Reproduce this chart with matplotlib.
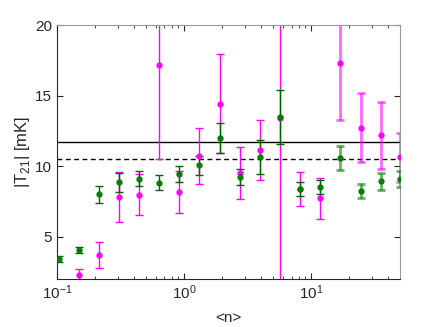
import matplotlib
matplotlib.use('Agg')
import matplotlib.pyplot as plt
import numpy as np

plt.rcParams['font.family'] = ['Liberation Sans', 'DejaVu Sans']
plt.rcParams['mathtext.fontset'] = 'custom'
plt.rcParams['mathtext.rm'] = 'Liberation Sans'

# <n> bins (log spaced)
n_mean = [0.104, 0.149, 0.213, 0.307, 0.444, 0.64, 0.918, 1.32, 1.9, 2.74,
          3.95, 5.7, 8.2, 11.8, 17.0, 24.5, 35.3, 50.0]

# green series
t_green = [3.42, 4.06, 8.0, 8.85, 9.11, 8.83, 9.45, 10.06, 12.0, 9.23,
           10.67, 13.49, 8.4, 8.52, 10.57, 8.24, 8.92, 9.11]
e_green = [0.2, 0.2, 0.6, 0.67, 0.55, 0.55, 0.58, 0.68, 1.08, 0.57,
           1.2, 1.9, 0.5, 0.5, 0.85, 0.47, 0.6, 0.56]

# magenta series (no value in the first bin)
t_mag = [np.nan, 2.3, 3.7, 7.79, 7.98, 17.18, 8.17, 10.72, 14.43, 9.52,
         11.17, 13.4, 8.38, 7.71, 17.34, 12.73, 12.18, 10.62]
e_mag = [np.nan, 0.43, 0.9, 1.78, 1.45, 6.7, 1.5, 2.0, 3.5, 1.83,
         2.13, 14.0, 1.23, 1.43, 4.1, 2.43, 2.37, 1.73]

t_solid = 11.72
t_dashed = 10.53

fig = plt.figure(figsize=(4.43, 3.27), dpi=100)
ax = fig.add_axes([0.1287, 0.1468, 0.7743, 0.7767])

x = np.array(n_mean)
tm, em = np.array(t_mag), np.array(e_mag)
tg, eg = np.array(t_green), np.array(e_green)
split = 14  # last bins drawn lighter

for sl, a, lw in [(slice(0, split), 1.0, 1.0), (slice(split, None), 0.6, 2.0)]:
    ax.errorbar(x[sl], tm[sl], yerr=em[sl], fmt='none', ecolor='#ff00ff',
                elinewidth=lw, capsize=3, capthick=lw, alpha=a, zorder=2)
    ax.errorbar(x[sl], tg[sl], yerr=eg[sl], fmt='none', ecolor='#006400' if a == 1.0 else '#008000',
                elinewidth=lw, capsize=3, capthick=lw, alpha=a, zorder=3)
ax.plot(x, tm, 'o', color='#ff00ff', markersize=3.5, zorder=4)
ax.plot(x, tg, 'o', color='#007f00', markersize=3.5, zorder=5)

ax.axhline(t_solid, color='black', lw=1.0, zorder=1)
ax.axhline(t_dashed, color='black', lw=1.0, ls=(0, (3.5, 2.5)), zorder=1)

ax.set_xscale('log')
ax.set_xlim(0.1, 50)
ax.set_ylim(2, 20)
ax.set_yticks([5, 10, 15, 20])
ax.tick_params(which='both', direction='in', top=True, right=True,
               colors='#262626', labelsize=11)
ax.tick_params(which='major', length=4)
ax.tick_params(which='minor', length=2)
for s in ax.spines.values():
    s.set_color('#999999')
ax.spines['left'].set_color('#262626')
ax.spines['bottom'].set_color('#262626')

ax.set_xlabel('<n>', fontsize=11, color='#262626', labelpad=6)
ax.set_ylabel('|T$_{21}$| [mK]', fontsize=12, color='#262626', labelpad=2)

plt.savefig('out.png', dpi=100)
